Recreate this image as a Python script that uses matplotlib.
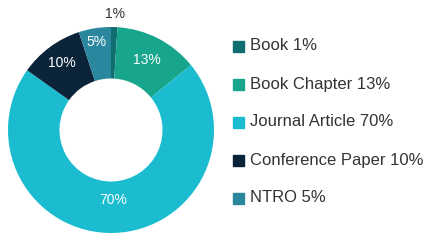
import matplotlib.pyplot as plt
import matplotlib.patches as mpatches
import numpy as np

plt.rcParams['font.family'] = ['Liberation Sans', 'DejaVu Sans']

categories = ['Book', 'Book Chapter', 'Journal Article', 'Conference Paper', 'NTRO']
shares = [1, 13, 70, 10, 5]
colors = ['#116e70', '#17a68b', '#1bbcd0', '#0c2439', '#2b879e']

# radial spot for each percentage label (fraction of outer radius)
label_r = [1.13, 0.76, 0.68, 0.81, 0.87]
label_col = ['#333333', 'white', 'white', 'white', 'white']

fig = plt.figure(figsize=(4.43, 2.46), dpi=100)
W, H = 443, 246
cx, cy, R = 111, 130, 103
ax = fig.add_axes([(cx - R) / W, (H - cy - R) / H, 2 * R / W, 2 * R / H])

wedges, _ = ax.pie(shares, colors=colors, startangle=90, counterclock=False,
                   radius=1.0, wedgeprops=dict(width=0.5, linewidth=0))
ax.set_xlim(-1, 1)
ax.set_ylim(-1, 1)
ax.set_aspect('equal')
ax.axis('off')

for w, s, r, c in zip(wedges, shares, label_r, label_col):
    ang = np.deg2rad((w.theta1 + w.theta2) / 2)
    ax.text(r * np.cos(ang), r * np.sin(ang), f'{s}%', ha='center', va='center',
            fontsize=10, color=c, clip_on=False)

# legend drawn by hand
y0, step = 46, 38
for i, (cat, s, c) in enumerate(zip(categories, shares, colors)):
    y = y0 + i * step
    fig.patches.append(mpatches.Rectangle((233 / W, 1 - (y + 6) / H), 11 / W, 11 / H,
                                          transform=fig.transFigure, color=c))
    fig.text(250 / W, 1 - y / H, f'{cat} {s}%', fontsize=12, color='#333333',
             ha='left', va='center')

fig.savefig('out.png', dpi=100)
